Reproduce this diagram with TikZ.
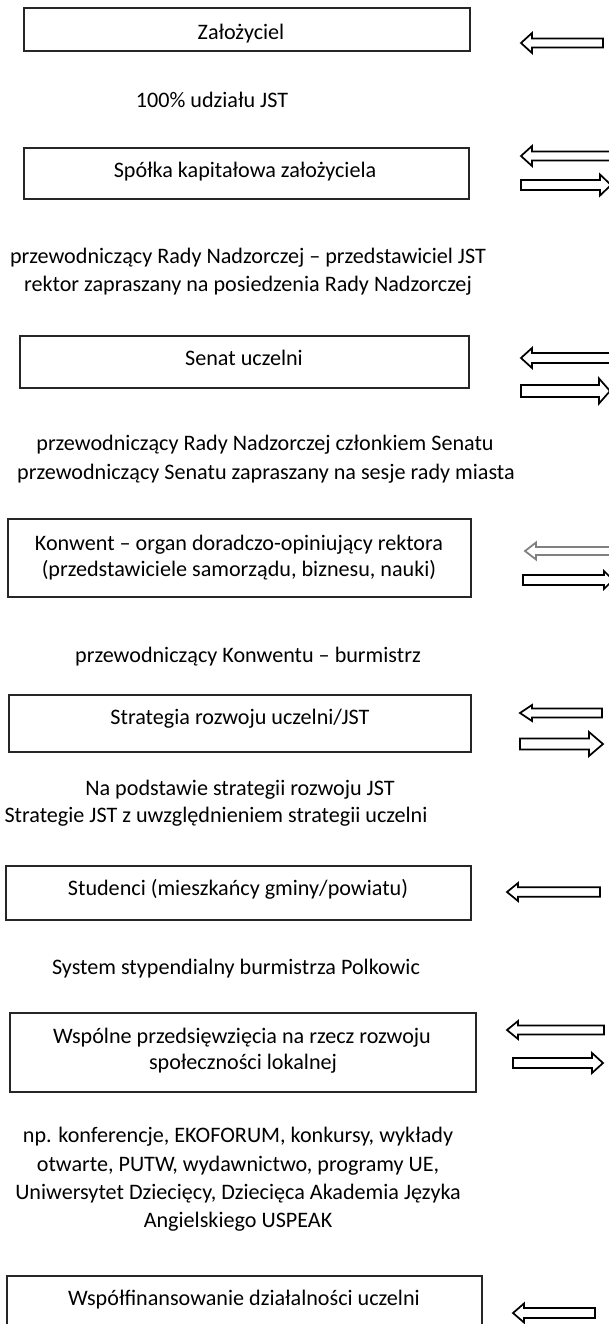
\documentclass[tikz,border=0pt]{standalone}
\usepackage{fontspec}
\setmainfont{Carlito}
\begin{document}
\begin{tikzpicture}[x=0.75pt,y=-0.75pt,
  boxst/.style={draw=black!85,line width=0.8pt,rectangle,inner sep=0pt,fill=none},
  txt/.style={anchor=base,inner sep=0pt,font=\fontsize{16.6}{20}\selectfont,text=black},
  arrst/.style={draw=black,line width=1.3pt,fill=white,line join=miter},
  arrgray/.style={draw=black!50,line width=1.3pt,fill=white,line join=miter}]
\newcommand\bx[5]{%
  \pgfmathsetmacro\bxw{(#4-#2)*0.75}\pgfmathsetmacro\bxh{(#5-#3)*0.75}%
  \node[boxst,minimum width=\bxw pt,minimum height=\bxh pt] (#1) at ({(#2+#4)/2},{(#3+#5)/2}) {};}
% left-pointing block arrow: style, tip x, end x, center y, shaft half, head half, head length
\newcommand\blockL[7]{%
  \draw[#1] (#2,#4) -- (#2+#7,#4-#6) -- (#2+#7,#4-#5) -- (#3,#4-#5) -- (#3,#4+#5) -- (#2+#7,#4+#5) -- (#2+#7,#4+#6) -- cycle;}
% right-pointing block arrow: style, start x, tip x, center y, shaft half, head half, head length
\newcommand\blockR[7]{%
  \draw[#1] (#3,#4) -- (#3-#7,#4-#6) -- (#3-#7,#4-#5) -- (#2,#4-#5) -- (#2,#4+#5) -- (#3-#7,#4+#5) -- (#3-#7,#4+#6) -- cycle;}
\useasboundingbox (0,0) rectangle (609,1324);
\clip (0,0) rectangle (609,1324);
\fill[white] (0,0) rectangle (609,1324);
% boxes
\bx{b1}{24}{8}{470}{51}
\bx{b2}{24}{148}{469}{199}
\bx{b3}{20}{336}{469}{388}
\bx{b4}{8}{519}{471}{597}
\bx{b5}{9}{695}{471}{752}
\bx{b6}{6}{866}{471}{920}
\bx{b7}{10}{1013}{476}{1092}
\bx{b8}{7}{1276}{482}{1345}
% texts
\node[txt] (t1) at (241,39) {Założyciel};
\node[txt] (t1a) at (212,107) {100\% udziału JST};
\node[txt] (t2) at (245,177) {Spółka kapitałowa założyciela};
\node[txt] (t2a) at (248,263) {przewodniczący Rady Nadzorczej – przedstawiciel JST};
\node[txt] (t2b) at (248,291) {rektor zapraszany na posiedzenia Rady Nadzorczej};
\node[txt] (t3) at (244,365) {Senat uczelni};
\node[txt] (t3a) at (265,450) {przewodniczący Rady Nadzorczej członkiem Senatu};
\node[txt] (t3b) at (266,479) {przewodniczący Senatu zapraszany na sesje rady miasta};
\node[txt] (t4a) at (239,550) {Konwent – organ doradczo-opiniujący rektora};
\node[txt] (t4b) at (239,576) {(przedstawiciele samorządu, biznesu, nauki)};
\node[txt] (t4c) at (248,662) {przewodniczący Konwentu – burmistrz};
\node[txt] (t5) at (240,724) {Strategia rozwoju uczelni/JST};
\node[txt] (t5a) at (240,795) {Na podstawie strategii rozwoju JST};
\node[txt] (t5b) at (216,822) {Strategie JST z uwzględnieniem strategii uczelni};
\node[txt] (t6) at (238,895) {Studenci (mieszkańcy gminy/powiatu)};
\node[txt] (t6a) at (236,974) {System stypendialny burmistrza Polkowic};
\node[txt] (t7a) at (242,1043) {Wspólne przedsięwzięcia na rzecz rozwoju};
\node[txt] (t7b) at (243,1069) {społeczności lokalnej};
\node[txt] (t7c) at (238,1142) {np. konferencje, EKOFORUM, konkursy, wykłady};
\node[txt] (t7d) at (238,1171) {otwarte, PUTW, wydawnictwo, programy UE,};
\node[txt] (t7e) at (238,1199) {Uniwersytet Dziecięcy, Dziecięca Akademia Języka};
\node[txt] (t7f) at (238,1227) {Angielskiego USPEAK};
\node[txt] (t8) at (244,1305) {Współfinansowanie działalności uczelni};
% block arrows
\blockL{arrst}{521}{603}{43}{4.5}{10}{11}
\blockL{arrst}{521}{620}{156}{4.5}{10}{11}
\blockR{arrst}{521}{611}{185}{5}{10.5}{11}
\blockL{arrst}{521}{620}{358}{5}{10}{11}
\blockR{arrst}{521}{610}{391}{6}{12.5}{11}
\blockL{arrgray}{525}{620}{551}{4}{8.5}{11}
\blockR{arrst}{523}{613}{580}{5}{9}{9}
\blockL{arrst}{520}{602}{713}{4.5}{8}{12}
\blockR{arrst}{520}{603}{744}{5.5}{12}{14}
\blockL{arrst}{507}{600}{892}{4.7}{9}{11}
\blockL{arrst}{507}{604}{1030}{4.5}{9}{11}
\blockR{arrst}{513}{603}{1063}{5}{10}{11}
\blockL{arrst}{513}{595}{1313}{5}{9.5}{11}
\end{tikzpicture}
\end{document}
